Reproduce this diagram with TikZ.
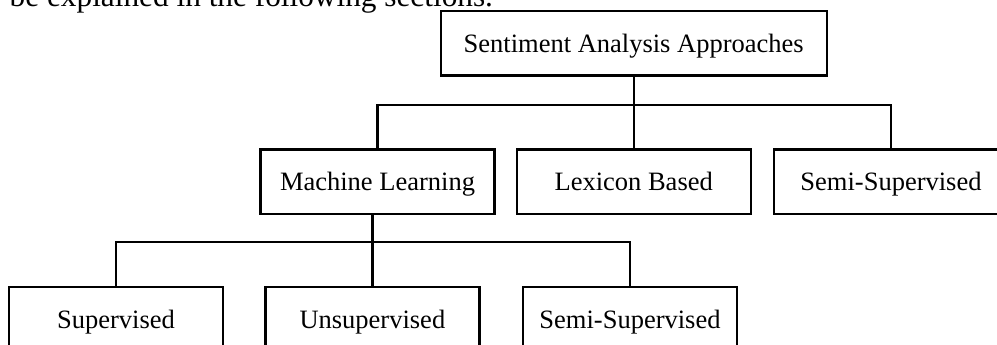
\documentclass[tikz,border=0pt]{standalone}
\usepackage{fontspec}
\setmainfont{Liberation Serif}
\begin{document}
\begin{tikzpicture}[x=1pt,y=-1pt,
  box/.style={draw=black,line width=2.3pt,rectangle,inner sep=0pt,
    minimum height=64.5pt,text height=17.5pt,text depth=0pt,
    font=\fontsize{26.5}{30}\selectfont},
  wide/.style={box,minimum width=386pt},
  midbox/.style={box,minimum width=234pt},
  lowbox/.style={box,minimum width=214pt},
  link/.style={draw=black,line width=2.3pt}]
\clip (0,0) rectangle (997,345);
\fill[white] (0,0) rectangle (997,345);

% line of body text above the chart
\node[anchor=base west,inner sep=0pt,font=\fontsize{31.3}{36}\selectfont]
  (prose) at (9.5,7) {be explained in the following sections.};

% root
\node[wide] (root) at (633.7,43.4) {Sentiment Analysis Approaches};

% first level
\node[midbox] (ml)    at (377.5,181.6) {Machine Learning};
\node[midbox] (lex)   at (633.7,181.6) {Lexicon Based};
\node[midbox] (semiA) at (891,181.8)   {Semi-Supervised};

% second level
\node[lowbox] (sup)   at (116,319.5)   {Supervised};
\node[lowbox] (uns)   at (372.4,319.5) {Unsupervised};
\node[lowbox] (semiB) at (630,319.5)   {Semi-Supervised};

% root to first level
\draw[link] (root.south) -- (lex.north);
\draw[link] (ml.north) -- ++(0,-43.5) -| (semiA.north);

% machine learning to second level
\draw[link] (ml.south -| uns.north) -- (uns.north);
\draw[link] (sup.north) -- ++(0,-44) -| (semiB.north);
\end{tikzpicture}
\end{document}
